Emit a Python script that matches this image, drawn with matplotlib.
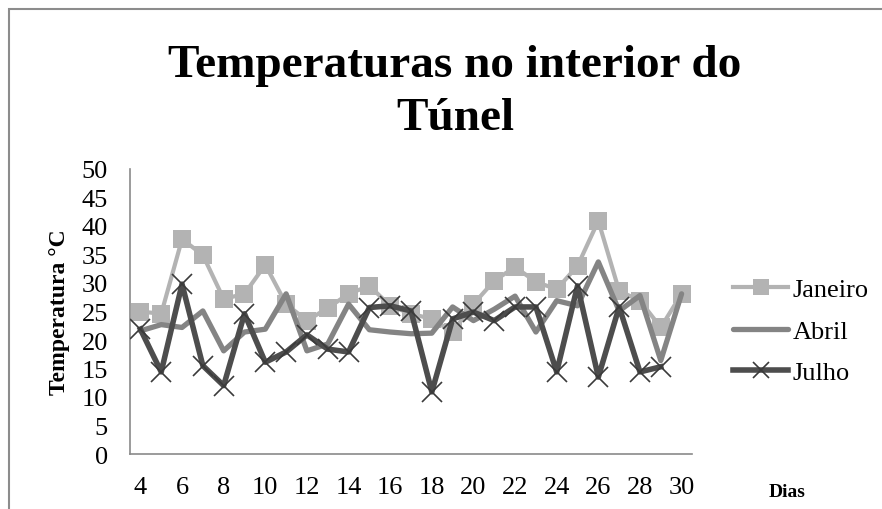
import numpy as np
import matplotlib
matplotlib.use("Agg")
import matplotlib.pyplot as plt
from matplotlib.patches import Rectangle

# days on the x axis
dias = list(range(4, 31))

janeiro = [25.0, 24.6, 37.7, 34.9, 27.2, 28.1, 33.2, 26.3, 23.4, 25.6, 28.1, 29.5, 26.0, 24.6,
           23.7, 21.4, 26.3, 30.4, 32.8, 30.2, 28.9, 33.0, 40.9, 28.6, 26.9, 22.2, 28.1]
abril = [21.6, 22.7, 22.2, 25.1, 18.1, 21.4, 21.9, 28.1, 18.1, 19.3, 26.3, 21.8, 21.4, 21.1,
         21.2, 25.8, 23.4, 25.4, 27.7, 21.4, 26.9, 26.0, 33.7, 25.1, 27.8, 16.4, 28.1]
# no July reading for day 30
julho = [21.9, 14.4, 29.8, 15.5, 12.0, 24.6, 16.1, 17.9, 20.9, 18.4, 17.9, 25.7, 26.0, 25.1,
         10.9, 23.7, 24.9, 23.4, 25.8, 25.8, 14.4, 29.5, 13.5, 25.8, 14.4, 15.3, np.nan]

xticks = list(range(4, 31, 2))
yticks = list(range(0, 51, 5))

plt.rcParams['font.family'] = ['Liberation Serif', 'DejaVu Serif']

fig = plt.figure(figsize=(8.82, 5.10), dpi=100)
ax = fig.add_axes([130 / 882, 1 - 455 / 510, 562 / 882, 285 / 510])

ax.plot(dias, janeiro, color='#b3b3b3', lw=3.0, marker='s', markersize=13,
        markeredgewidth=0, label='Janeiro', solid_joinstyle='round', zorder=2)
ax.plot(dias, abril, color='#848484', lw=3.8, label='Abril', solid_joinstyle='round',
        solid_capstyle='round', zorder=3)
ax.plot(dias, julho, color='#4d4d4d', lw=4.0, marker='x', markersize=14,
        markeredgewidth=1.2, markeredgecolor='#3a3a3a', label='Julho',
        solid_joinstyle='round', zorder=4)

ax.set_xlim(3.5, 30.5)
ax.set_ylim(0, 50)
ax.set_xticks(xticks)
ax.set_yticks(yticks)
ax.tick_params(length=0, labelsize=19)
ax.tick_params(axis='x', pad=16)
ax.tick_params(axis='y', pad=16)
for side in ['top', 'right']:
    ax.spines[side].set_visible(False)
for side in ['left', 'bottom']:
    ax.spines[side].set_color('#8a8a8a')
    ax.spines[side].set_linewidth(1.2)

ax.set_ylabel('Temperatura °C', fontsize=17, fontweight='bold', va='center')
ax.yaxis.set_label_coords(-0.1246, 0.5)
fig.text(787 / 882, 1 - 493 / 510, 'Dias', fontsize=14, fontweight='bold',
         ha='center', va='center')

fig.text(455 / 882, 1 - 77 / 510, 'Temperaturas no interior do', fontsize=34,
         fontweight='bold', ha='center', va='baseline')
fig.text(455 / 882, 1 - 130 / 510, 'Túnel', fontsize=34,
         fontweight='bold', ha='center', va='baseline')

leg = ax.legend(loc='center left', bbox_to_anchor=(733 / 882, 1 - 332 / 510),
                bbox_transform=fig.transFigure, frameon=False, fontsize=19,
                handlelength=2.1, handletextpad=0.15, labelspacing=0.68,
                borderaxespad=0, borderpad=0)
for h in leg.legend_handles:
    h.set_markersize(11)

# gray frame around the chart area (left and top edges visible)
fig.patches.append(Rectangle((9 / 882, -0.1), 1.2, 1 - 10 / 510 + 0.1,
                             transform=fig.transFigure, fill=False,
                             edgecolor='#8c8c8c', lw=1.5))

fig.savefig('out.png', dpi=100, facecolor='white')
